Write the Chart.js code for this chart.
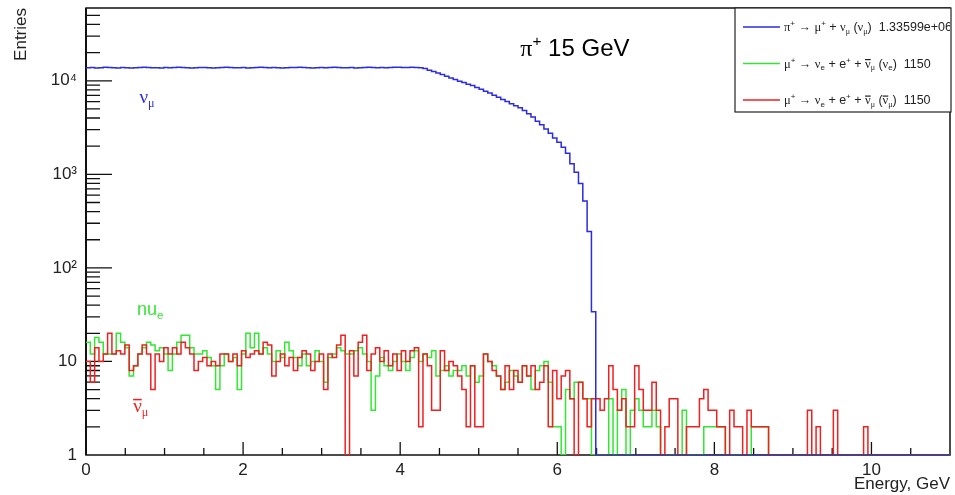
<!DOCTYPE html>
<html>
<head>
<meta charset="utf-8">
<title>pi+ 15 GeV</title>
<script src="https://cdn.jsdelivr.net/npm/chart.js@4.4.1/dist/chart.umd.min.js"></script>
<style>
  body { margin: 0; background: #fff; }
  #box { width: 955px; height: 495px; }
</style>
</head>
<body>
<div id="box"><canvas id="grafico"></canvas></div>
<script>
// histogram binning: 200 bins of 0.055 GeV, 0 .. 11 GeV
const BIN_WIDTH = 0.055
const N_BINS = 200

// pi+ -> mu+ + nu_mu  (nu_mu)
const numu = [
  13800, 13900, 13700, 13800, 14000, 13900, 13800, 13700, 13900, 13800,
  13700, 13800, 13900, 14000, 13900, 13800, 13800, 13700, 13900, 13800,
  13900, 14000, 13900, 13800, 13700, 13800, 13900, 13900, 13800, 13700,
  13800, 13900, 14000, 13900, 13800, 13800, 13900, 13700, 13800, 13900,
  14000, 13900, 13800, 13900, 13800, 13700, 13800, 13900, 13900, 14000,
  13900, 13800, 13700, 13800, 13900, 13800, 13900, 14000, 13900, 13800,
  13800, 13900, 13700, 13800, 13900, 14000, 13900, 13800, 13900, 13800,
  13900, 14000, 14000, 13900, 13900, 14000, 13900, 13800,
  13500, 13000, 12600, 12100, 11700, 11200, 10700, 10300, 9900, 9600,
  9200, 8900, 8500, 8100, 7750, 7400, 7000, 6650, 6300, 6000,
  5700, 5400, 5150, 4800, 4450, 4100, 3700, 3400, 3050, 2750,
  2450, 2200, 1950, 1680, 1300, 1050, 800, 520, 245, 34,
  0, 0, 0, 0, 0, 0, 0, 0, 0, 0, 0, 0, 0, 0, 0, 0, 0, 0, 0, 0,
  0, 0, 0, 0, 0, 0, 0, 0, 0, 0, 0, 0, 0, 0, 0, 0, 0, 0, 0, 0,
  0, 0, 0, 0, 0, 0, 0, 0, 0, 0, 0, 0, 0, 0, 0, 0, 0, 0, 0, 0,
  0, 0, 0, 0, 0, 0, 0, 0, 0, 0, 0, 0, 0, 0, 0, 0, 0, 0, 0, 0,
  0, 0
]

// mu+ -> nu_e + e+ + anti-nu_mu  (nu_e)
const nue = [
  16, 12, 18, 16, 12, 12, 12, 20, 16, 14, 7, 9, 12, 14, 16, 15, 13, 14, 12, 8,
  12, 16, 19, 19, 14, 12, 12, 13, 11,
  9, 5, 9, 12, 10, 11, 5, 12, 20, 14, 20, 12, 14, 12, 10, 13, 11, 16, 13, 11,
  9, 12, 9, 10, 13, 10, 6, 11, 12,
  14, 13, 12, 12, 13, 14, 12, 10, 3, 7, 11, 9, 8, 10, 12, 10, 8, 11, 13, 10,
  12, 11, 13, 7, 8, 9, 7, 8,
  8, 9, 7, 9, 6, 7, 12, 10, 9, 7, 5, 6, 8, 7, 6, 9, 7, 5, 8, 9,
  10, 6, 2, 2, 0, 5, 4, 6,
  6, 4, 4, 0, 0, 0, 0, 4, 0, 3, 5, 0, 3, 4, 3, 2, 2, 3, 2, 0,
  0, 0, 0, 0, 3, 0, 0, 0, 0, 2, 2, 2, 2, 2,
  0, 0, 0, 0, 0, 0, 2, 2, 2, 2,
  0, 0, 0, 0, 0, 0, 0, 0, 0, 0, 0, 0, 0, 0, 0, 0, 0, 0, 0, 0,
  0, 0, 0, 0, 0, 0, 0, 0, 0, 0, 0, 0, 0, 0, 0, 0, 0, 0, 0, 0,
  0, 0
]

// mu+ -> nu_e + e+ + anti-nu_mu  (anti-nu_mu)
const antinumu = [
  10, 6, 14, 10, 12, 20, 12, 13, 12, 15, 8, 9, 12, 15, 12, 5, 12, 10, 14, 12,
  14, 12, 16, 14, 12, 8, 10, 11, 9,
  10, 9, 12, 12, 10, 12, 9, 13, 11, 12, 13, 12, 16, 15, 7, 10, 12, 9, 11, 8,
  11, 13, 12, 8, 10, 12, 5, 12, 11,
  15, 19, 0, 13, 7, 16, 19, 8, 12, 14, 10, 13, 9, 12, 8, 13, 10, 13, 14, 2,
  12, 9, 3, 3, 13, 8, 10, 9,
  7, 5, 2, 9, 2, 2, 12, 10, 8, 7, 5, 9, 5, 8, 6, 9, 7, 9, 5, 6,
  9, 2, 8, 4, 7, 8, 4, 0,
  6, 4, 2, 4, 4, 3, 4, 9, 5, 3, 4, 2, 2, 9, 5, 3, 3, 6, 3, 0,
  2, 4, 4, 0, 0, 2, 2, 2, 4, 5, 3, 3, 2, 2, 0, 3, 2, 2, 0, 3,
  2, 2, 2, 2,
  0, 0, 0, 0, 0, 0, 0, 0, 0, 3, 0, 2, 0, 0, 0, 3, 0, 0, 0, 0,
  0, 0, 2, 0, 0, 0, 0, 0, 0, 0, 0, 0, 0, 0, 0, 0, 0, 0, 0, 0,
  0, 0
]

const xTickValues = [0, 2, 4, 6, 8, 10]
const xMinorStep = 0.5
const yTickValues = [1, 10, 100, 1000, 10000]
const yTickLabels = ["1", "10", "10²", "10³", "10⁴"]

// rich text pieces: [text, flags]  g = greek, ^ = superscript, _ = subscript, - = overbar
const legendLabels = [
  [["π", "g"], ["+", "^"], [" → "], ["μ", "g"], ["+", "^"], [" + "], ["ν", "g"], ["μ", "g_"], [" ("], ["ν", "g"], ["μ", "g_"], [")  1.33599e+06"]],
  [["μ", "g"], ["+", "^"], [" → "], ["ν", "g"], ["e", "_"], [" + e"], ["+", "^"], [" + "], ["ν", "g-"], ["μ", "g_"], [" ("], ["ν", "g"], ["e", "_"], [")  1150"]],
  [["μ", "g"], ["+", "^"], [" → "], ["ν", "g"], ["e", "_"], [" + e"], ["+", "^"], [" + "], ["ν", "g-"], ["μ", "g_"], [" ("], ["ν", "g-"], ["μ", "g_"], [")  1150"]]
]
const titleText = [["π", "g"], ["+", "^"], [" 15 GeV"]]
const numuTag = [["ν", "g"], ["μ", "g_"]]
const nueTag = [["nu"], ["e", "_"]]
const antinumuTag = [["ν", "g-"], ["μ", "g_"]]

const colBlue = "#2b2be0"
const colGreen = "#33e633"
const colRed = "#ee2020"

const toSteps = (vals) => vals.map((v, i) => ({ x: i * BIN_WIDTH, y: v }))
  .concat([{ x: N_BINS * BIN_WIDTH, y: vals[vals.length - 1] }])

const drawRich = (ctx, x, y, parts, size, color) => {
  ctx.fillStyle = color
  ctx.textBaseline = "alphabetic"
  ctx.textAlign = "left"
  let cx = x
  parts.forEach(([t, f = ""]) => {
    const small = f.includes("^") || f.includes("_")
    const s = small ? size * 0.64 : size
    ctx.font = `${s}px ${f.includes("g") ? '"Liberation Serif", serif' : '"Liberation Sans", sans-serif'}`
    const w = ctx.measureText(t).width
    let dy = 0
    if (f.includes("^")) dy = -size * 0.4
    if (f.includes("_")) dy = size * 0.22
    ctx.fillText(t, cx, y + dy)
    if (f.includes("-")) ctx.fillRect(cx, y - size * 0.68, w, Math.max(1.2, size * 0.08))
    cx += w
  })
}

const rootStyle = {
  id: "rootStyle",
  beforeDatasetsDraw(chart) {
    const { ctx, chartArea: a, scales: { x, y } } = chart
    ctx.save()
    ctx.strokeStyle = "#111"
    ctx.lineWidth = 1.3
    ctx.beginPath()
    for (let v = x.min + xMinorStep; v < x.max - 1e-6; v += xMinorStep) {
      const px = x.getPixelForValue(v)
      const len = xTickValues.includes(v) ? 13 : 7
      ctx.moveTo(px, a.bottom)
      ctx.lineTo(px, a.bottom - len)
    }
    for (let e = 0; Math.pow(10, e) < y.max; e++) {
      for (let m = 1; m <= 9; m++) {
        const v = m * Math.pow(10, e)
        if (v <= y.min || v >= y.max) continue
        const py = y.getPixelForValue(v)
        ctx.moveTo(a.left, py)
        ctx.lineTo(a.left + (m === 1 ? 26 : 14), py)
      }
    }
    ctx.stroke()
    ctx.lineWidth = 1.5
    ctx.strokeRect(a.left, a.top, a.right - a.left, a.bottom - a.top)
    ctx.lineWidth = 2
    ctx.beginPath()
    ctx.moveTo(a.left, a.top)
    ctx.lineTo(a.left, a.bottom)
    ctx.stroke()
    ctx.restore()
  },
  afterDraw(chart) {
    const { ctx, chartArea: a, scales: { x, y } } = chart
    ctx.save()
    // curve tags
    drawRich(ctx, x.getPixelForValue(0.68), y.getPixelForValue(5800), numuTag, 19, colBlue)
    drawRich(ctx, x.getPixelForValue(0.65), y.getPixelForValue(31), nueTag, 18, colGreen)
    drawRich(ctx, x.getPixelForValue(0.6), y.getPixelForValue(2.9), antinumuTag, 19, colRed)
    // title
    drawRich(ctx, x.getPixelForValue(5.53), a.top + 48, titleText, 24, "#000")
    // legend box
    const lx = 735, ly = a.top, lw = 216, lh = 104
    ctx.fillStyle = "#fff"
    ctx.fillRect(lx, ly, lw, lh)
    ctx.strokeStyle = "#222"
    ctx.lineWidth = 1.2
    ctx.strokeRect(lx, ly, lw, lh)
    ctx.beginPath()
    ctx.rect(lx, ly, lw - 1, lh)
    ctx.clip()
    const cols = [colBlue, colGreen, colRed]
    legendLabels.forEach((parts, i) => {
      const cy = ly + 19 + i * 36.5
      ctx.strokeStyle = cols[i]
      ctx.lineWidth = 1.5
      ctx.beginPath()
      ctx.moveTo(lx + 8, cy)
      ctx.lineTo(lx + 45, cy)
      ctx.stroke()
      drawRich(ctx, lx + 49, cy + 4, parts, 12.5, "#222")
    })
    ctx.restore()
  }
}

Chart.defaults.font.family = '"Liberation Sans", Arial, sans-serif'
Chart.defaults.color = "#222"

const graph = document.getElementById("grafico")
const renderGraph = new Chart(graph, {
  type: "line",
  data: {
    datasets: [
      { label: "nu_mu", data: toSteps(numu), borderColor: colBlue },
      { label: "anti nu_mu", data: toSteps(antinumu), borderColor: colRed },
      { label: "nu_e", data: toSteps(nue), borderColor: colGreen }
    ]
  },
  options: {
    responsive: true,
    maintainAspectRatio: false,
    animation: false,
    devicePixelRatio: 1,
    parsing: false,
    layout: { padding: { left: 0, right: 5, top: 8, bottom: 0 } },
    elements: {
      line: { stepped: true, borderWidth: 1.5, tension: 0, fill: false },
      point: { radius: 0, hoverRadius: 0 }
    },
    plugins: { legend: { display: false }, tooltip: { enabled: false } },
    scales: {
      x: {
        type: "linear", min: 0, max: 11,
        grid: { display: false, drawTicks: false },
        border: { display: false },
        afterBuildTicks: (s) => { s.ticks = xTickValues.map(v => ({ value: v })) },
        ticks: { autoSkip: false, maxRotation: 0, padding: 5, font: { size: 17 }, callback: (v) => String(v) },
        title: { display: true, text: "Energy, GeV", align: "end", font: { size: 17 }, padding: { top: 0, bottom: 0 } },
        afterFit: (s) => { s.height = 40; s.paddingLeft = 0; s.paddingRight = 0 }
      },
      y: {
        type: "logarithmic", min: 1, max: 60000,
        grid: { display: false, drawTicks: false },
        border: { display: false },
        afterBuildTicks: (s) => { s.ticks = yTickValues.map(v => ({ value: v })) },
        ticks: {
          autoSkip: false, padding: 9, font: { size: 17 },
          callback: (v) => {
            const i = yTickValues.findIndex(t => Math.abs(t - v) / t < 1e-6)
            return i >= 0 ? yTickLabels[i] : ""
          }
        },
        title: { display: true, text: "Entries", align: "end", font: { size: 17 }, padding: { top: 11, bottom: 0 } },
        afterFit: (s) => { s.width = 86; s.paddingTop = 0; s.paddingBottom = 0 }
      }
    }
  },
  plugins: [rootStyle]
})
</script>
</body>
</html>
